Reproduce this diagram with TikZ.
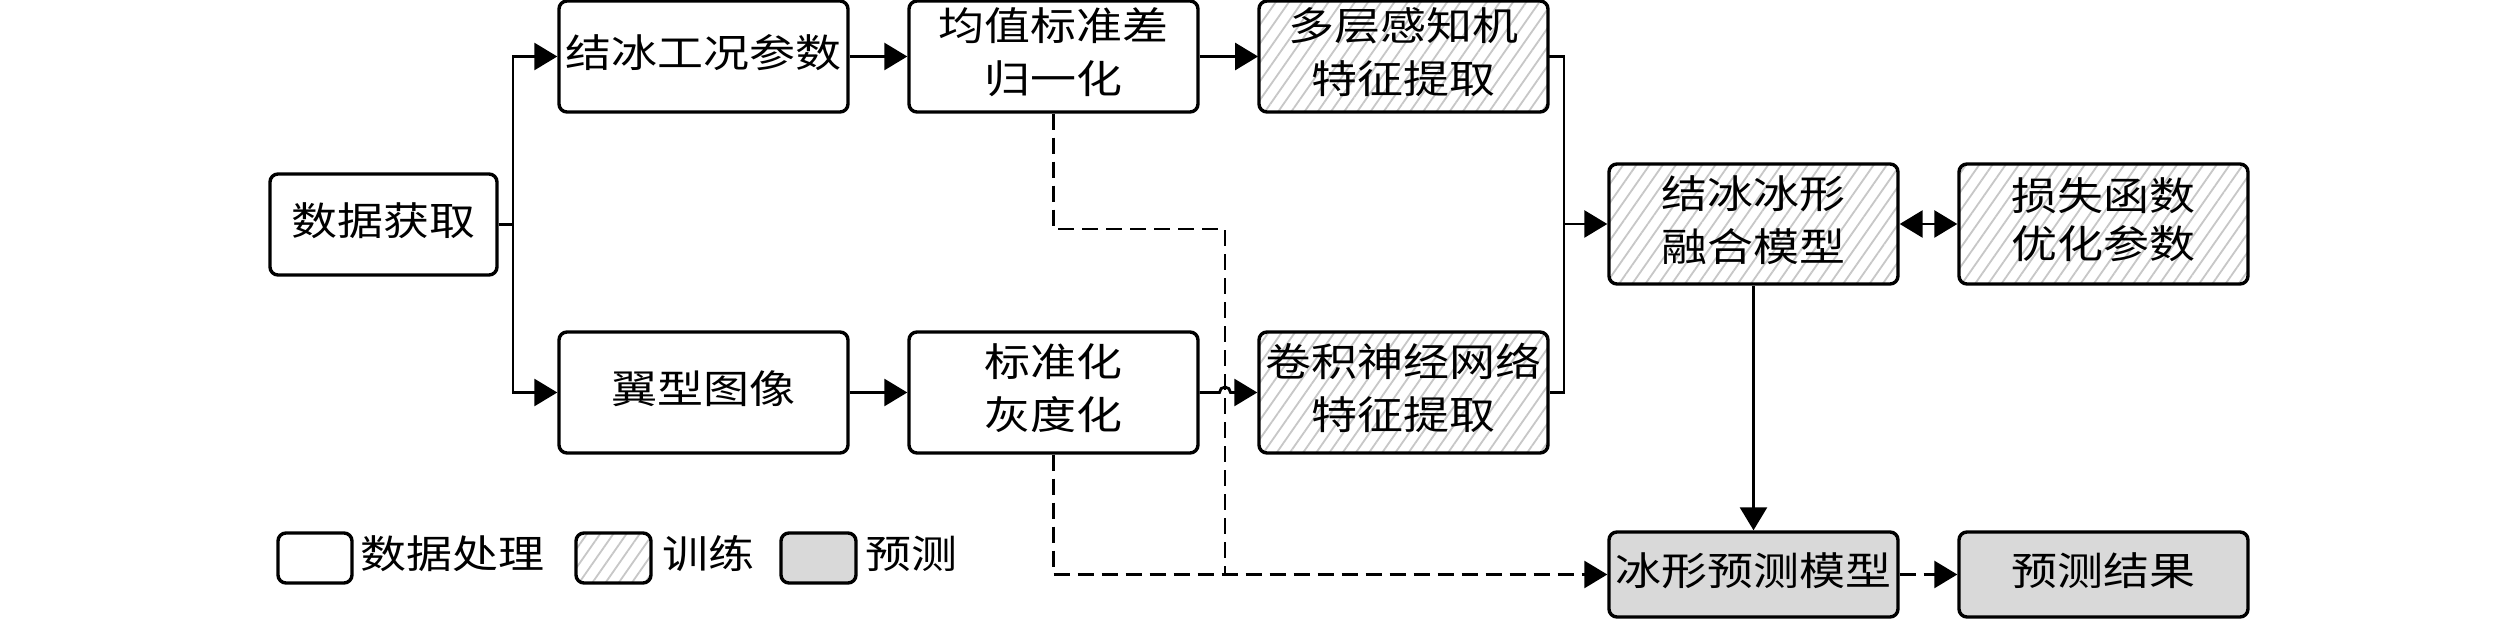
\documentclass[tikz,border=0pt]{standalone}
\usepackage{fontspec}
\usepackage{graphicx}
\newfontfamily\cjk{Noto Sans CJK SC}
\usetikzlibrary{arrows.meta,patterns.meta}
\newcommand{\sq}[1]{\scalebox{1}[0.85]{\begin{tabular}{@{}c@{}}#1\end{tabular}}}
\begin{document}
\begin{tikzpicture}[x=0.25pt,y=-0.25pt,
  txt/.style={inner sep=0pt,font=\cjk\fontsize{11.5pt}{15.6pt}\selectfont},
  box/.style={txt,draw,line width=0.85pt,rounded corners=2pt,minimum width=72.25pt},
  proc/.style={box,fill=white},
  train/.style={box,pattern={Lines[angle=55,distance=2.7pt,line width=0.45pt]},pattern color=black!22},
  pred/.style={box,fill=black!15},
  ln/.style={line width=0.7pt},
  tip/.tip={Triangle[length=5.75pt,width=6.75pt]},
  arr/.style={ln,-tip},
  dbl/.style={ln,tip-tip},
  dsh/.style={ln,dash pattern=on 4pt off 2pt},
  dsharr/.style={dsh,-tip}
]
\fill[white] (0,0) rectangle (2520,619);
\useasboundingbox (0,0) rectangle (2520,619);

% row 1
\node[proc,minimum width=56.75pt,minimum height=25.25pt] (acq) at (383.5,224.5) {\sq{数据获取}};
\node[proc,minimum height=27.75pt] (ice) at (703.5,56.5) {\sq{结冰工况参数}};
\node[proc,minimum height=27.75pt] (norm) at (1053.5,56.5) {\sq{均值标准差\\归一化}};
\node[train,minimum height=27.75pt] (mlp) at (1403.5,56.5) {\sq{多层感知机\\特征提取}};
% row 2
\node[proc,minimum height=30.25pt] (img) at (703.5,392.5) {\sq{翼型图像}};
\node[proc,minimum height=30.25pt] (gray) at (1053.5,392.5) {\sq{标准化\\灰度化}};
\node[train,minimum height=30.25pt] (cnn) at (1403.5,392.5) {\sq{卷积神经网络\\特征提取}};
% right
\node[train,minimum height=30pt] (fus) at (1753.5,224) {\sq{结冰冰形\\融合模型}};
\node[train,minimum height=30pt] (loss) at (2103.5,224) {\scalebox{1}[0.85]{\begin{tabular}{@{}c@{}}损失函数\\[-1.6pt]优化参数\end{tabular}}};
\node[pred,minimum height=21.25pt] (pm) at (1753.5,574.5) {\sq{冰形预测模型}};
\node[pred,minimum height=21.25pt] (res) at (2103.5,574.5) {\sq{预测结果}};

% legend
\node[proc,minimum width=18.5pt,minimum height=12.5pt] (lg1) at (315,558) {};
\node[txt,anchor=west] (lt1) at (360,558) {\sq{数据处理}};
\node[train,minimum width=18.75pt,minimum height=12.5pt] (lg2) at (613.5,558) {};
\node[txt,anchor=west] (lt2) at (662,558) {\sq{训练}};
\node[pred,minimum width=18.75pt,minimum height=12.5pt] (lg3) at (818.5,558) {};
\node[txt,anchor=west] (lt3) at (865,558) {\sq{预测}};

% connectors
\coordinate (br) at (513,224.5);
\draw[ln] (acq.east) -- (br);
\draw[arr] (br) |- (ice.west);
\draw[arr] (br) |- (img.west);
\draw[arr] (ice) -- (norm);
\draw[arr] (norm) -- (mlp);
\draw[arr] (img) -- (gray);
\coordinate (hop) at (1219.5,392.5);
\draw[arr] (gray.east) -- (hop) arc[start angle=180,end angle=0,radius=1.375pt] -- (cnn.west);
\coordinate (jn) at (1564,224);
\draw[ln] (mlp.east) -| (jn);
\draw[ln] (cnn.east) -| (jn);
\draw[arr] (jn) -- (fus.west);
\draw[dbl] (fus.east) -- (loss.west);
\draw[arr] (fus.south) -- (pm.north);
\draw[dsharr] (pm.east) -- (res.west);
\coordinate (d1) at (1225,229);
\coordinate (d2) at (1225,574.5);
\draw[dsh] (norm.south) |- (d1) -- (d2);
\draw[dsharr] (gray.south) |- (pm.west);
\end{tikzpicture}
\end{document}
